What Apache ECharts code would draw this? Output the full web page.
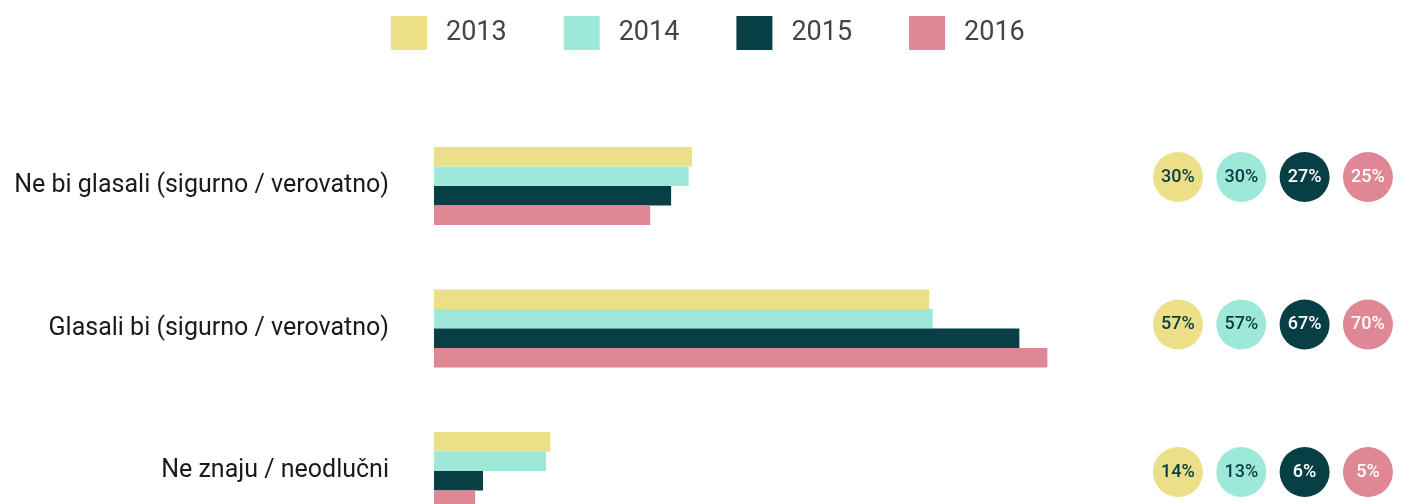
<!DOCTYPE html>
<html>
<head>
<meta charset="utf-8">
<script src="https://cdn.jsdelivr.net/npm/echarts@6/dist/echarts.min.js"></script>
<style>
  html, body { margin: 0; padding: 0; background: #fff; }
  #chart { width: 1402px; height: 504px; }
</style>
</head>
<body>
<div id="chart"></div>
<script>
// ---- Data ----
const categories = ['Ne bi glasali (sigurno / verovatno)', 'Glasali bi (sigurno / verovatno)', 'Ne znaju / neodlučni'];
const years = ['2013', '2014', '2015', '2016'];
const colors = ['#ebdf88', '#9ee8d9', '#073f45', '#e08795'];

// bar lengths (%)
const values2013 = [29.5, 56.6, 13.3];
const values2014 = [29.1, 57.0, 12.8];
const values2015 = [27.1, 66.9, 5.6];
const values2016 = [24.7, 70.1, 4.7];

// rounded labels shown in the circles
const labels2013 = [30, 57, 14];
const labels2014 = [30, 57, 13];
const labels2015 = [27, 67, 6];
const labels2016 = [25, 70, 5];

const barValues = [values2013, values2014, values2015, values2016];
const circleLabels = [labels2013, labels2014, labels2015, labels2016];
const labelColors = ['#0b3c44', '#0b3c44', '#ffffff', '#ffffff'];

const FONT = 'Roboto, "DejaVu Sans Condensed", sans-serif';

// ---- Build series ----
const series = [];
years.forEach((year, i) => {
  series.push({
    name: year,
    type: 'bar',
    xAxisIndex: 0,
    yAxisIndex: 0,
    barWidth: 19.5,
    barGap: '0%',
    itemStyle: { color: colors[i] },
    data: barValues[i],
    silent: true
  });
});
years.forEach((year, i) => {
  series.push({
    name: year + ' krug',
    type: 'scatter',
    xAxisIndex: 1,
    yAxisIndex: 1,
    symbol: 'circle',
    symbolSize: 50,
    itemStyle: { color: colors[i], opacity: 1 },
    label: {
      show: true,
      position: 'inside',
      formatter: p => p.value[2] + '%',
      color: labelColors[i],
      fontFamily: FONT,
      fontSize: 18,
      fontWeight: 500
    },
    data: categories.map((c, k) => [year, c, circleLabels[i][k]]),
    silent: true
  });
});

const chart = echarts.init(document.getElementById('chart'));
chart.setOption({
  animation: false,
  backgroundColor: '#ffffff',
  legend: {
    data: years,
    top: 11,
    left: 386,
    icon: 'rect',
    itemWidth: 36,
    itemHeight: 34,
    itemGap: 57,
    textStyle: {
      fontFamily: FONT,
      fontSize: 27,
      color: '#444444',
      padding: [0, 0, 0, 14]
    },
    selectedMode: false
  },
  grid: [
    { left: 434, width: 875, top: 114.75, height: 427.5, outerBoundsMode: 'none', containLabel: false },
    { left: 1146.3, width: 253.3, top: 103.25, height: 442.5, outerBoundsMode: 'none', containLabel: false }
  ],
  xAxis: [
    {
      type: 'value', gridIndex: 0, min: 0, max: 100,
      show: false
    },
    {
      type: 'category', gridIndex: 1, data: years,
      show: false
    }
  ],
  yAxis: [
    {
      type: 'category', gridIndex: 0, data: categories, inverse: true,
      axisLine: { show: false },
      axisTick: { show: false },
      splitLine: { show: false },
      axisLabel: {
        margin: 45,
        fontFamily: FONT,
        fontSize: 25,
        color: '#1a1a1a'
      }
    },
    {
      type: 'category', gridIndex: 1, data: categories, inverse: true,
      show: false
    }
  ],
  series: series
});
window.addEventListener('resize', () => chart.resize());
</script>
</body>
</html>
